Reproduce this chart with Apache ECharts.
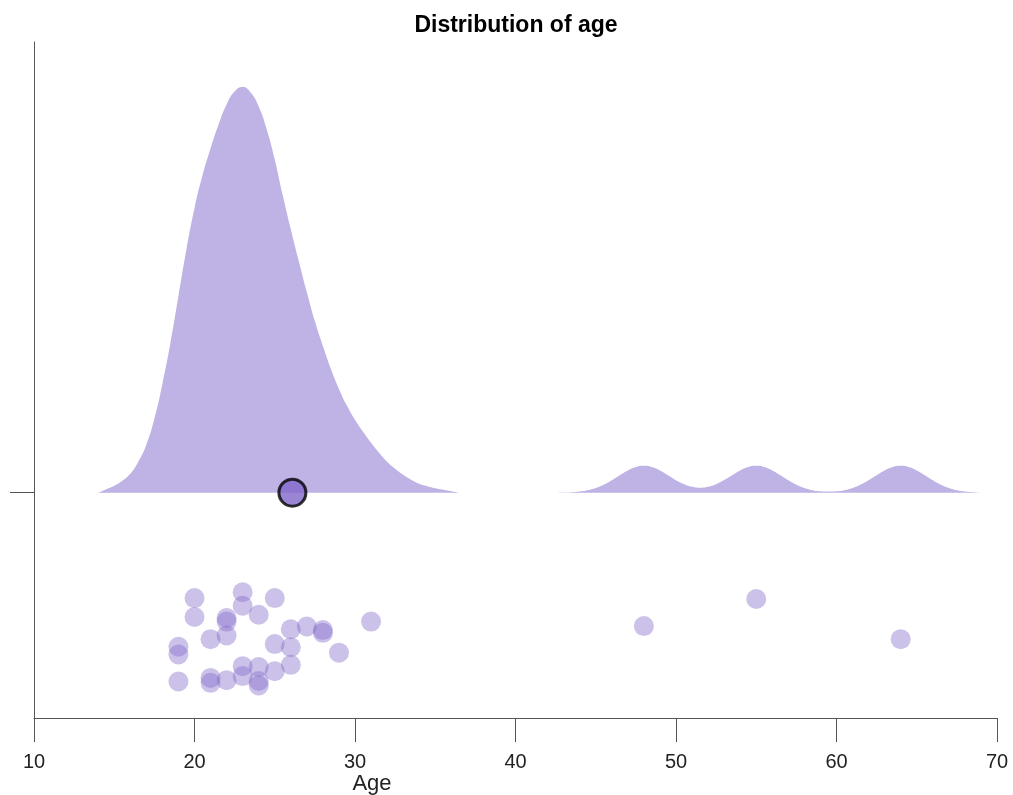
<!DOCTYPE html>
<html>
<head>
<meta charset="utf-8">
<title>Distribution of age</title>
<script src="https://cdn.jsdelivr.net/npm/echarts@6/dist/echarts.min.js"></script>
<style>
  html, body { margin: 0; padding: 0; background: #ffffff; }
  #chart { width: 1013px; height: 795px; }
</style>
</head>
<body>
<div id="chart"></div>
<script>
// Individual ages and their vertical jitter (in y-axis units, below the violin baseline)
const ages = [19, 19, 19, 20, 20, 21, 21, 21, 22, 22, 22, 22, 23, 23, 23, 23, 24, 24, 24, 24,
              25, 25, 25, 26, 26, 26, 27, 28, 28, 29, 31, 48, 55, 64];
const jitter = [-0.342, -0.359, -0.419, -0.234, -0.276, -0.325, -0.411, -0.422, -0.278, -0.286,
                -0.317, -0.416, -0.221, -0.251, -0.385, -0.407, -0.271, -0.387, -0.418, -0.428,
                -0.234, -0.336, -0.396, -0.303, -0.343, -0.382, -0.297, -0.305, -0.311, -0.355,
                -0.286, -0.296, -0.236, -0.325];

// Mean age
const meanAge = 26.1;

// Kernel density of age (percent per year), sampled every half year.
// Main group: ages 14.0 .. 36.5
const densityStep = 0.5;
const densityMainStart = 14.0;
const densityMain = [0, 0.093, 0.185, 0.317, 0.503, 0.820, 1.270, 1.958, 2.884, 3.968,
                     5.212, 6.455, 7.540, 8.413, 9.127, 9.762, 10.291, 10.635, 10.754, 10.608,
                     10.238, 9.630, 8.836, 7.884, 6.984, 6.138, 5.317, 4.550, 3.889, 3.280,
                     2.751, 2.302, 1.931, 1.614, 1.323, 1.058, 0.820, 0.635, 0.476, 0.344,
                     0.238, 0.172, 0.119, 0.079, 0.040, 0];
// Older group: ages 42.5 .. 69.0
const densityOlderStart = 42.5;
const densityOlder = [0, 0.005, 0.014, 0.031, 0.065, 0.124, 0.211, 0.328, 0.460, 0.587,
                      0.680, 0.714, 0.680, 0.587, 0.460, 0.328, 0.225, 0.156, 0.131, 0.156,
                      0.225, 0.333, 0.462, 0.587, 0.680, 0.714, 0.680, 0.587, 0.460, 0.328,
                      0.211, 0.125, 0.067, 0.037, 0.028, 0.037, 0.067, 0.125, 0.211, 0.328,
                      0.460, 0.587, 0.680, 0.714, 0.680, 0.587, 0.460, 0.328, 0.211, 0.124,
                      0.065, 0.031, 0.014, 0];

const PURPLE = '#7f66c9';
const PURPLE_FILL = 'rgba(127, 102, 201, 0.5)';
const FONT = "'Liberation Sans', Arial, Helvetica, sans-serif";
const AXIS_COLOR = '#555555';

// Violin half-width: the tallest density reaches 0.9 of a category band
const maxDensity = Math.max(...densityMain, ...densityOlder);
const violinScale = 0.9 / maxDensity;

const toPoints = (start, values) =>
  values.map((v, i) => [start + i * densityStep, v * violinScale]);

// A gap point splits the outline into two separate filled shapes
const violinData = [
  ...toPoints(densityMainStart, densityMain),
  [(densityMainStart + (densityMain.length - 1) * densityStep + densityOlderStart) / 2, null],
  ...toPoints(densityOlderStart, densityOlder)
];
const pointData = ages.map((a, i) => [a, jitter[i]]);

const chart = echarts.init(document.getElementById('chart'), null, { renderer: 'canvas' });

chart.setOption({
  animation: false,
  backgroundColor: '#ffffff',
  title: [
    {
      text: 'Distribution of age',
      left: 511,
      top: 9,
      textAlign: 'center',
      textStyle: { fontFamily: FONT, fontSize: 23, fontWeight: 'bold', color: '#000000' }
    },
    {
      text: 'Age',
      left: 367,
      top: 768,
      textAlign: 'center',
      textStyle: { fontFamily: FONT, fontSize: 22, fontWeight: 'normal', color: '#222222' }
    }
  ],
  grid: { left: 34, right: 16, top: 42, bottom: 77, containLabel: false },
  xAxis: {
    type: 'value',
    min: 10,
    max: 70,
    interval: 10,
    axisLine: { show: true, onZero: false, lineStyle: { color: AXIS_COLOR, width: 1 } },
    axisTick: { show: true, length: 24, lineStyle: { color: AXIS_COLOR, width: 1 } },
    axisLabel: { margin: 34, fontFamily: FONT, fontSize: 20, color: '#222222' },
    splitLine: { show: false }
  },
  yAxis: {
    type: 'value',
    min: -0.5,
    max: 1.0,
    axisLine: { show: true, onZero: false, lineStyle: { color: AXIS_COLOR, width: 1 } },
    axisTick: { show: true, length: 24, customValues: [0], lineStyle: { color: AXIS_COLOR, width: 1 } },
    axisLabel: { show: false },
    splitLine: { show: false }
  },
  series: [
    {
      name: 'density',
      type: 'line',
      data: violinData,
      smooth: 0.5,
      showSymbol: false,
      connectNulls: false,
      lineStyle: { width: 0, opacity: 0 },
      areaStyle: { color: PURPLE_FILL, opacity: 1, origin: 'auto' },
      silent: true,
      z: 1
    },
    {
      name: 'ages',
      type: 'scatter',
      data: pointData,
      symbol: 'circle',
      symbolSize: 20,
      itemStyle: { color: PURPLE_FILL, borderWidth: 0 },
      z: 2
    },
    {
      name: 'mean',
      type: 'scatter',
      data: [[meanAge, 0]],
      symbol: 'circle',
      symbolSize: 27,
      itemStyle: { color: PURPLE, borderColor: '#000000', borderWidth: 3 },
      z: 3
    }
  ]
});
</script>
</body>
</html>
